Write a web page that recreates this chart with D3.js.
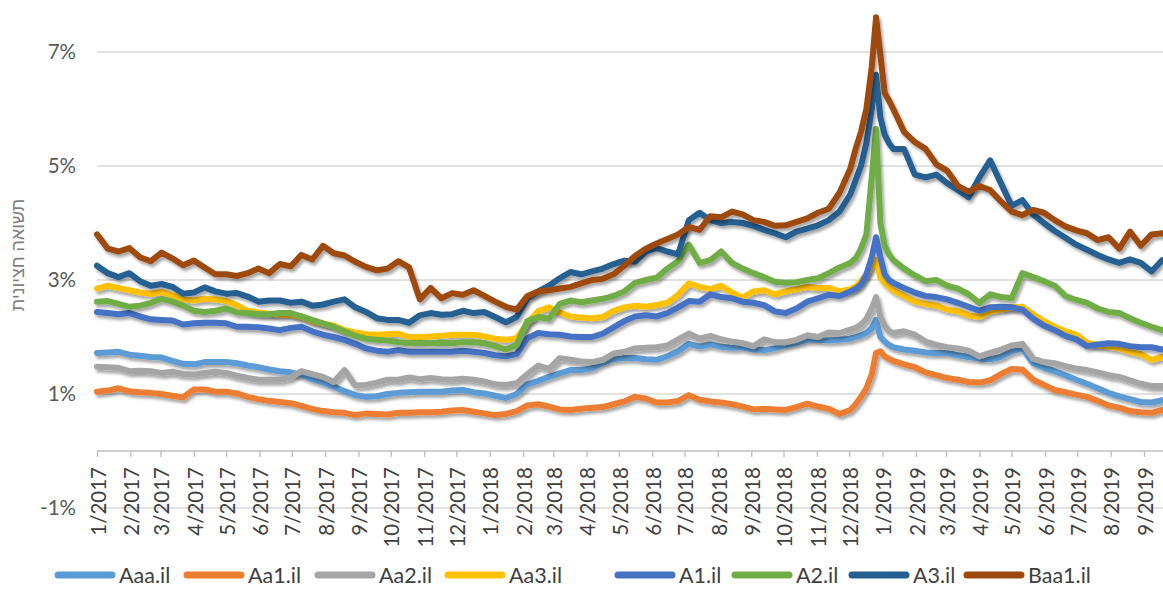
<!DOCTYPE html>
<html><head><meta charset="utf-8">
<script src="https://cdn.jsdelivr.net/npm/d3@7"></script>
<style>
body{margin:0;background:#fff}
svg{display:block}
text{font-family:Lato,"Open Sans",sans-serif;fill:#595959}
</style>
</head><body>
<svg id="chart" width="1163" height="589"></svg>
<script>
// sample dates: day offsets from 1 Jan 2017
const START = "2017-01-01";
const DAYS = d3.range(0, 701, 10).concat([705,710,715,720,724,728,732,736,740], d3.range(750, 1001, 10));

const seriesNames = ["Aaa.il","Aa1.il","Aa2.il","Aa3.il","A1.il","A2.il","A3.il","Baa1.il"];
const seriesColors = ["#5B9BD5","#ED7D31","#A5A5A5","#FFC000","#4472C4","#70AD47","#255E91","#9E480E"];

const aaa = [1.72,1.73,1.74,1.69,1.67,1.65,1.64,1.58,1.53,1.52,
1.56,1.56,1.56,1.54,1.50,1.47,1.43,1.40,1.38,1.34,
1.26,1.20,1.13,1.05,0.98,0.95,0.96,1.00,1.02,1.03,
1.04,1.04,1.04,1.06,1.07,1.03,1.01,0.97,0.93,1.00,
1.17,1.23,1.30,1.36,1.42,1.42,1.45,1.55,1.61,1.63,
1.63,1.61,1.60,1.66,1.75,1.88,1.83,1.87,1.83,1.81,
1.82,1.78,1.77,1.80,1.86,1.90,1.95,1.95,1.94,1.95,
1.97,
2.00,2.03,2.07,2.15,2.30,2.00,1.92,1.86,1.82,
1.78,1.76,1.73,1.72,1.72,1.68,1.65,1.62,1.61,1.65,1.75,1.80,1.54,1.46,1.40,1.33,1.25,1.18,1.10,1.02,0.96,0.91,0.86,0.85,0.89,0.88];

const aa1 = [1.04,1.06,1.10,1.05,1.03,1.02,1.00,0.97,0.94,1.08,
1.08,1.04,1.04,1.01,0.95,0.91,0.88,0.86,0.84,0.79,
0.74,0.70,0.68,0.67,0.63,0.66,0.65,0.64,0.67,0.67,
0.68,0.68,0.69,0.71,0.72,0.69,0.66,0.63,0.65,0.70,
0.80,0.82,0.78,0.73,0.72,0.74,0.76,0.77,0.82,0.87,
0.95,0.92,0.85,0.85,0.88,0.98,0.90,0.87,0.85,0.82,
0.78,0.73,0.74,0.73,0.72,0.77,0.83,0.78,0.74,0.65,
0.72,
0.82,0.95,1.10,1.35,1.72,1.75,1.66,1.62,1.58,
1.52,1.47,1.38,1.33,1.28,1.25,1.21,1.20,1.24,1.35,1.44,1.43,1.25,1.16,1.07,1.03,0.99,0.95,0.88,0.80,0.76,0.70,0.68,0.67,0.72,0.72];

const aa2 = [1.48,1.47,1.46,1.40,1.41,1.40,1.37,1.39,1.35,1.34,
1.37,1.39,1.37,1.32,1.28,1.25,1.25,1.25,1.29,1.40,
1.35,1.30,1.21,1.42,1.15,1.16,1.20,1.25,1.25,1.29,
1.26,1.28,1.26,1.25,1.27,1.25,1.22,1.17,1.16,1.19,
1.35,1.50,1.44,1.63,1.60,1.57,1.56,1.60,1.71,1.74,
1.80,1.81,1.82,1.85,1.96,2.06,1.97,2.02,1.96,1.92,
1.89,1.84,1.96,1.91,1.91,1.95,2.03,2.00,2.08,2.07,
2.13,
2.16,2.22,2.32,2.50,2.70,2.35,2.20,2.10,2.07,
2.10,2.04,1.92,1.86,1.82,1.80,1.76,1.66,1.72,1.78,1.85,1.88,1.62,1.56,1.54,1.49,1.45,1.42,1.38,1.33,1.30,1.24,1.18,1.14,1.14,1.14];

const aa3 = [2.85,2.90,2.86,2.82,2.78,2.76,2.79,2.73,2.66,2.64,
2.67,2.66,2.63,2.56,2.46,2.43,2.41,2.39,2.39,2.36,
2.28,2.24,2.20,2.12,2.08,2.05,2.04,2.05,2.06,2.00,
2.00,2.01,2.02,2.04,2.04,2.04,2.01,1.97,1.95,1.98,
2.25,2.45,2.52,2.43,2.36,2.34,2.33,2.35,2.46,2.52,
2.55,2.53,2.56,2.60,2.74,2.94,2.88,2.84,2.90,2.78,
2.69,2.80,2.82,2.75,2.80,2.84,2.88,2.86,2.86,2.80,
2.84,
2.88,2.98,3.10,3.25,3.35,3.05,2.95,2.88,2.82,
2.72,2.62,2.58,2.55,2.48,2.45,2.38,2.35,2.45,2.48,2.52,2.53,2.40,2.28,2.18,2.10,2.04,1.90,1.86,1.83,1.80,1.74,1.70,1.60,1.65,1.63];

const a1 = [2.44,2.42,2.40,2.42,2.36,2.31,2.30,2.29,2.22,2.24,
2.25,2.25,2.24,2.18,2.18,2.17,2.15,2.12,2.16,2.18,
2.10,2.04,2.00,1.95,1.88,1.80,1.76,1.74,1.77,1.74,
1.74,1.74,1.74,1.74,1.76,1.74,1.72,1.68,1.66,1.70,
1.98,2.07,2.05,2.04,2.01,2.00,2.00,2.06,2.17,2.28,
2.36,2.38,2.36,2.42,2.52,2.63,2.62,2.75,2.70,2.68,
2.62,2.60,2.56,2.45,2.42,2.50,2.62,2.68,2.74,2.72,
2.80,
2.85,2.92,3.10,3.40,3.75,3.40,3.10,3.00,2.95,
2.86,2.78,2.72,2.70,2.66,2.60,2.53,2.46,2.52,2.53,2.52,2.48,2.32,2.20,2.12,2.02,1.96,1.84,1.87,1.89,1.88,1.84,1.82,1.82,1.78,1.78];

const a2 = [2.62,2.63,2.58,2.53,2.55,2.60,2.67,2.62,2.55,2.46,
2.44,2.46,2.50,2.43,2.42,2.40,2.40,2.42,2.42,2.36,
2.30,2.24,2.18,2.10,2.02,1.97,1.95,1.94,1.91,1.89,
1.90,1.89,1.90,1.89,1.91,1.91,1.89,1.84,1.78,1.86,
2.28,2.35,2.32,2.58,2.64,2.61,2.64,2.67,2.72,2.80,
2.95,3.00,3.04,3.20,3.33,3.62,3.30,3.35,3.50,3.30,
3.20,3.12,3.05,2.97,2.95,2.96,3.00,3.03,3.12,3.22,
3.30,
3.38,3.55,3.80,4.80,5.65,4.00,3.60,3.45,3.35,
3.20,3.08,2.98,3.00,2.90,2.85,2.75,2.60,2.75,2.70,2.68,3.12,3.05,2.98,2.90,2.72,2.65,2.60,2.50,2.44,2.42,2.33,2.25,2.18,2.12,2.12];

const a3 = [3.25,3.12,3.05,3.12,2.98,2.90,2.93,2.88,2.76,2.78,
2.87,2.80,2.76,2.77,2.71,2.62,2.64,2.64,2.60,2.62,
2.55,2.57,2.62,2.66,2.52,2.44,2.33,2.30,2.30,2.25,
2.38,2.42,2.39,2.40,2.46,2.42,2.44,2.35,2.26,2.35,
2.68,2.80,2.90,3.03,3.14,3.10,3.15,3.20,3.28,3.34,
3.32,3.50,3.56,3.50,3.45,4.05,4.18,4.05,4.00,4.02,
4.00,3.95,3.88,3.82,3.75,3.85,3.90,3.96,4.05,4.20,
4.50,
4.75,5.00,5.40,6.00,6.60,5.85,5.55,5.40,5.30,
5.30,4.85,4.80,4.85,4.70,4.58,4.45,4.80,5.10,4.70,4.30,4.40,4.15,4.00,3.86,3.74,3.62,3.53,3.44,3.36,3.30,3.36,3.30,3.15,3.35,3.35];

const baa1 = [3.80,3.55,3.50,3.56,3.40,3.33,3.48,3.38,3.26,3.34,
3.22,3.10,3.10,3.07,3.12,3.20,3.12,3.28,3.24,3.44,
3.36,3.60,3.47,3.43,3.32,3.23,3.17,3.20,3.33,3.22,
2.66,2.86,2.68,2.77,2.74,2.82,2.72,2.62,2.53,2.48,
2.72,2.80,2.82,2.85,2.88,2.94,3.00,3.02,3.10,3.25,
3.42,3.55,3.64,3.72,3.80,3.93,3.88,4.12,4.10,4.20,
4.15,4.05,4.02,3.95,3.96,4.02,4.08,4.18,4.25,4.53,
4.95,
5.30,5.60,6.00,6.74,7.61,6.95,6.28,6.15,6.00,
5.60,5.42,5.30,5.03,4.92,4.65,4.55,4.65,4.58,4.38,4.20,4.14,4.23,4.18,4.05,3.94,3.87,3.82,3.70,3.75,3.55,3.85,3.60,3.80,3.82,3.80];

const yTicks = [-1, 1, 3, 5, 7];
const yTitle = "תשואה חציונית";

const seriesValues = [aaa, aa1, aa2, aa3, a1, a2, a3, baa1];

// ---------- drawing ----------
const W = 1163, H = 589;
const svg = d3.select("#chart");
const parse = d3.timeParse("%Y-%m-%d");
const base = parse(START);
const dates = DAYS.map(d => d3.timeDay.offset(base, d));

const x = d3.scaleTime().domain([new Date(2017,0,1), new Date(2019,8,1)]).range([97, 1144]);
const y = d3.scaleLinear().domain([-1, 7]).range([508, 52]);

const defs = svg.append("defs");
const f = defs.append("filter").attr("id","shadow").attr("x","-2%").attr("y","-10%").attr("width","104%").attr("height","130%");
f.append("feDropShadow").attr("dx",2).attr("dy",3).attr("stdDeviation",1.8).attr("flood-color","#000").attr("flood-opacity",0.35);

// gridlines
svg.append("g").selectAll("line").data(yTicks).join("line")
  .attr("x1", x.range()[0]).attr("x2", W)
  .attr("y1", d => y(d)).attr("y2", d => y(d))
  .attr("stroke", "#d9d9d9").attr("stroke-width", 1.3);

// y labels
svg.append("g").selectAll("text").data(yTicks).join("text")
  .attr("x", 76).attr("y", d => y(d)).attr("dy", "0.36em")
  .attr("text-anchor", "end").attr("font-size", 20.5)
  .text(d => d + "%");

// y title
svg.append("text")
  .attr("transform", "translate(18,255) rotate(-90)")
  .attr("text-anchor", "middle").attr("dy", "0.35em")
  .attr("font-size", 18)
  .style("font-family", "'Liberation Sans','DejaVu Sans',sans-serif")
  .style("fill", "#7f7f7f")
  .text(yTitle);

// x axis
const months = d3.timeMonth.range(new Date(2017,0,1), new Date(2019,9,1));
const fmt = d => (d.getMonth() + 1) + "/" + d.getFullYear();
const gx = svg.append("g").attr("transform", `translate(0,${y(0)})`)
  .call(d3.axisBottom(x).tickValues(months).tickFormat(fmt).tickSize(6).tickSizeOuter(0));
gx.select(".domain").remove();
gx.selectAll(".tick line").attr("stroke", "#bfbfbf").attr("stroke-width", 1.3);
gx.selectAll(".tick text")
  .attr("transform", "rotate(-90)")
  .attr("text-anchor", "end")
  .attr("x", -16).attr("y", 0).attr("dy", "0.4em")
  .attr("font-size", 20.5)
  .style("fill", "#404040");
gx.append("line").attr("x1", x.range()[0]).attr("x2", W).attr("y1", 0).attr("y2", 0)
  .attr("stroke", "#bfbfbf").attr("stroke-width", 1.3);
gx.attr("font-family", null);

// lines
const line = d3.line().x(d => x(d.date)).y(d => y(d.v));
const data = seriesNames.map((n, i) => ({
  name: n, color: seriesColors[i],
  pts: seriesValues[i].map((v, j) => ({date: dates[j], v}))
}));
svg.append("g").selectAll("path").data(data).join("path")
  .attr("d", d => line(d.pts))
  .attr("fill", "none")
  .attr("stroke", d => d.color)
  .attr("stroke-width", 6)
  .attr("stroke-linejoin", "round")
  .attr("stroke-linecap", "round")
  .attr("filter", "url(#shadow)");

// legend
const legendX = [58, 187, 318, 448, 618, 735, 852, 967];
const lg = svg.append("g").selectAll("g").data(data).join("g")
  .attr("transform", (d, i) => `translate(${legendX[i]},575)`);
lg.append("line").attr("x1", 0).attr("x2", 54).attr("y1", 0).attr("y2", 0)
  .attr("stroke", d => d.color).attr("stroke-width", 7).attr("stroke-linecap", "round");
lg.append("text").attr("x", 61).attr("dy", "0.36em").attr("font-size", 21.5)
  .style("fill", "#404040").text(d => d.name);
</script>
</body></html>
